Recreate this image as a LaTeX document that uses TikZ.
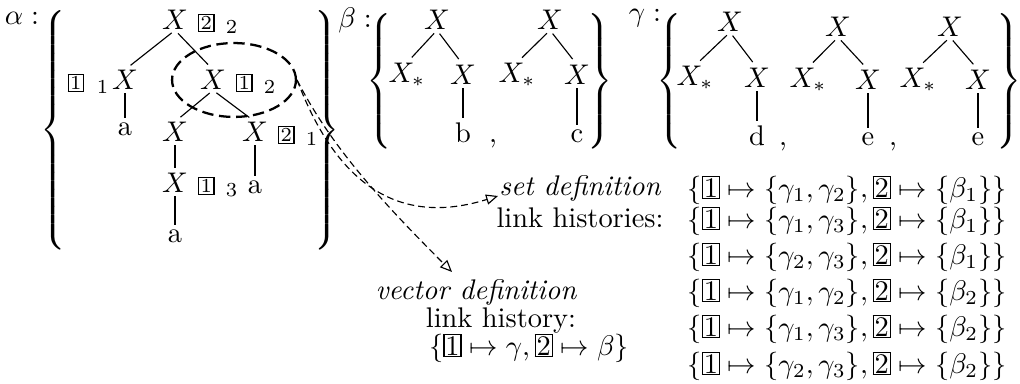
\documentclass[tikz,border=0pt]{standalone}
\usetikzlibrary{arrows.meta,shapes.geometric}
\newcommand\tbx[1]{{\setlength\fboxsep{0.5pt}\fbox{\scriptsize #1}}}
\newcommand\fbx[1]{{\setlength\fboxsep{0.3pt}\fbox{#1}}}
\begin{document}
\begin{tikzpicture}[x=0.352pt,y=-0.352pt,
  tn/.style={inner sep=0pt},
  ann/.style={inner sep=0pt,anchor=base west,xshift=3.2pt},
  annl/.style={inner sep=0pt,anchor=base east,xshift=-0.5pt},
  lf/.style={inner sep=0pt,anchor=base},
  br/.style={shorten <=1.5pt,shorten >=2.5pt},
  vt/.style={shorten <=1pt,shorten >=1.5pt},
  brc/.style={inner sep=0pt},
  lnk/.style={dash pattern=on 2.4pt off 1.4pt,-{Triangle[open,length=4.2pt,width=3.6pt]}},
  txt/.style={inner sep=0pt}]
\useasboundingbox (0,0) rectangle (1020,384);

% ---------- alpha ----------
\node[txt] (la) at (22,18) {$\alpha:$};
\node[brc] (lbA) at (55,131) {$\left\{\vrule height 40pt depth 40pt width 0pt\right.$};
\node[brc] (rbA) at (325,131) {$\left.\vrule height 40pt depth 40pt width 0pt\right\}$};

\node[tn] (a0) at (175,20) {$X$};
\node[ann] (a0n) at (a0.base east) {\tbx{2}\hspace{4pt}$_2$};
\node[tn] (a1) at (125,80) {$X$};
\node[annl] (a1n) at (a1.base west) {\tbx{1}\hspace{4.5pt}$_1$};
\node[tn] (a2) at (213,80) {$X$};
\node[ann] (a2n) at (a2.base east) {\tbx{1}\hspace{4pt}$_2$};
\node[lf] (a3) at (125,136) {a};
\node[tn] (a4) at (175,132) {$X$};
\node[tn] (a5) at (255,132) {$X$};
\node[ann] (a5n) at (a5.base east) {\tbx{2}\hspace{4pt}$_1$};
\node[tn] (a6) at (175,183) {$X$};
\node[ann] (a6n) at (a6.base east) {\tbx{1}\hspace{4pt}$_3$};
\node[lf] (a7) at (255,194) {a};
\node[lf] (a8) at (175,243) {a};

\draw[br] (a0.south) -- (a1.north);
\draw[br] (a0.south) -- (a2.north);
\draw[br] (a2.south) -- (a4.north);
\draw[br] (a2.south) -- (a5.north);
\draw[vt] (a1.south) -- (a3.north);
\draw[vt] (a4.south) -- (a6.north);
\draw[vt] (a5.south) -- (a7.north);
\draw[vt] (a6.south) -- (a8.north);

\node[draw,ellipse,thick,dash pattern=on 4pt off 2pt,inner sep=0pt,
      minimum width=43.6pt,minimum height=26pt] (ell) at (234,80) {};

% ---------- beta ----------
\node[txt] (lb) at (355,20) {$\beta:$};
\node[brc] (lbB) at (381,82) {$\left\{\vrule height 22pt depth 22pt width 0pt\right.$};
\node[brc] (rbB) at (598,82) {$\left.\vrule height 22pt depth 22pt width 0pt\right\}$};
\node[tn] (b0) at (437,20) {$X$};
\node[tn] (b1) at (407,75) {$X_*$};
\node[tn] (b2) at (463,75) {$X$};
\node[lf] (b3) at (463,143) {b};
\node[lf] (bc1) at (493,143) {,};
\node[tn] (b4) at (550,20) {$X$};
\node[tn] (b5) at (517,75) {$X_*$};
\node[tn] (b6) at (577,75) {$X$};
\node[lf] (b7) at (577,143) {c};
\draw[br] (b0.south) -- (b1.north);
\draw[br] (b0.south) -- (b2.north);
\draw[vt] (b2.south) -- (b3.north);
\draw[br] (b4.south) -- (b5.north);
\draw[br] (b4.south) -- (b6.north);
\draw[vt] (b6.south) -- (b7.north);

% ---------- gamma ----------
\node[txt] (lg) at (645,18) {$\gamma:$};
\node[brc] (lbG) at (671,82) {$\left\{\vrule height 22pt depth 22pt width 0pt\right.$};
\node[brc] (rbG) at (1007,82) {$\left.\vrule height 22pt depth 22pt width 0pt\right\}$};
\node[tn] (g0) at (730,22) {$X$};
\node[tn] (g1) at (695,78) {$X_*$};
\node[tn] (g2) at (757,78) {$X$};
\node[lf] (g3) at (757,146) {d};
\node[lf] (gc1) at (783,146) {,};
\node[tn] (g4) at (838,27) {$X$};
\node[tn] (g5) at (808,80) {$X_*$};
\node[tn] (g6) at (868,80) {$X$};
\node[lf] (g7) at (868,146) {e};
\node[lf] (gc2) at (893,146) {,};
\node[tn] (g8) at (950,27) {$X$};
\node[tn] (g9) at (918,80) {$X_*$};
\node[tn] (g10) at (978,80) {$X$};
\node[lf] (g11) at (978,146) {e};
\draw[br] (g0.south) -- (g1.north);
\draw[br] (g0.south) -- (g2.north);
\draw[vt] (g2.south) -- (g3.north);
\draw[br] (g4.south) -- (g5.north);
\draw[br] (g4.south) -- (g6.north);
\draw[vt] (g6.south) -- (g7.north);
\draw[br] (g8.south) -- (g9.north);
\draw[br] (g8.south) -- (g10.north);
\draw[vt] (g10.south) -- (g11.north);

% ---------- texts ----------
\node[txt] (setdef) at (580,188) {\itshape set definition};
\node[txt] (sethist) at (580,218) {link histories:};
\node[txt] (vecdef) at (476,292) {\itshape vector definition};
\node[txt] (vechist) at (501,321) {link history:};
\node[txt] (vecform) at (529,348) {$\{\fbx{1}\mapsto\gamma,\fbx{2}\mapsto\beta\}$};

\node[txt,anchor=west] (r1) at (687,190) {$\{\fbx{1}\mapsto\{\gamma_1,\gamma_2\},\fbx{2}\mapsto\{\beta_1\}\}$};
\node[txt,anchor=west] (r2) at (687,221) {$\{\fbx{1}\mapsto\{\gamma_1,\gamma_3\},\fbx{2}\mapsto\{\beta_1\}\}$};
\node[txt,anchor=west] (r3) at (687,257) {$\{\fbx{1}\mapsto\{\gamma_2,\gamma_3\},\fbx{2}\mapsto\{\beta_1\}\}$};
\node[txt,anchor=west] (r4) at (687,293) {$\{\fbx{1}\mapsto\{\gamma_1,\gamma_2\},\fbx{2}\mapsto\{\beta_2\}\}$};
\node[txt,anchor=west] (r5) at (687,329) {$\{\fbx{1}\mapsto\{\gamma_1,\gamma_3\},\fbx{2}\mapsto\{\beta_2\}\}$};
\node[txt,anchor=west] (r6) at (687,366) {$\{\fbx{1}\mapsto\{\gamma_2,\gamma_3\},\fbx{2}\mapsto\{\beta_2\}\}$};

% ---------- arrows ----------
\coordinate (settip) at (498,196);
\coordinate (vectip) at (452,272);
\draw[lnk] (ell.east) .. controls (335,180) and (395,228) .. (settip);
\draw[lnk] (ell.east) .. controls (330,145) and (380,200) .. (vectip);
\end{tikzpicture}
\end{document}
